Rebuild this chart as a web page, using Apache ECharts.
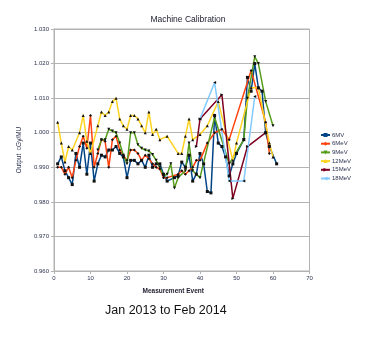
<!DOCTYPE html>
<html>
<head>
<meta charset="utf-8">
<script src="https://cdn.jsdelivr.net/npm/echarts@6/dist/echarts.min.js"></script>
<style>
  html, body { margin: 0; padding: 0; background: #ffffff; }
  #chart { width: 365px; height: 342px; }
</style>
</head>
<body>
<div id="chart"></div>
<script>
// Calibration output per measurement event, one [event, cGy/MU] list per beam
const seriesNames = ['6MV', '6MeV', '9MeV', '12MeV', '15MeV', '18MeV'];
const seriesColors = ['#004586', '#ff420e', '#579d1c', '#ffd320', '#7e0021', '#83caff'];

const mv6 = [
  [1,0.991],[2,0.993],[3,0.989],[4,0.987],[5,0.985],[6,0.994],[7,0.990],[8,0.997],[9,0.988],[10,0.997],
  [11,0.986],[12,0.991],[13,0.9935],[14,0.993],[15,0.995],[16,0.995],[17,0.996],[18,0.994],[19,0.993],[20,0.987],
  [21,0.992],[22,0.992],[23,0.991],[24,0.992],[25,0.990],[26,0.9935],[27,0.990],[28,0.991],[29,0.991],[30,0.988],
  [31,0.986],[33,0.987],[34,0.9875],[35,0.9915],[36,0.990],[37,0.9935],[38,0.986],[39,0.988],[40,0.994],[41,0.991],
  [42,0.983],[43,0.9826],[44,1.005],[45,0.997],[46,0.996],[47,0.993],[48,0.9875],[49,0.991],[50,0.994],[52,0.998],
  [53,1.016],[54,1.012],[55,1.020],[56,1.013],[57,1.012],[58,1.000],[59,0.996],[61,0.991]
];
const mev6 = [
  [1,0.990],[2,0.990],[3,0.988],[4,0.990],[5,0.987],[6,0.992],[7,0.996],[8,0.999],[9,0.9955],[10,1.005],
  [11,0.990],[12,0.994],[13,0.998],[14,0.9975],[15,0.990],[16,0.998],[17,0.999],[18,0.995],[19,0.9935],[20,0.992],
  [21,0.995],[22,0.995],[23,0.994],[24,0.992],[25,0.9935],[26,0.9925],[27,0.991],[28,0.990],[29,0.9895],[30,0.987],
  [31,0.987],[34,0.988],[35,0.989],[36,0.988],[37,0.989],[38,0.990],[39,0.992],[40,0.992],[42,0.997],[44,1.000],
  [46,1.001],[48,0.998],[54,1.018],[58,1.003],[59,0.994]
];
const mev9 = [
  [12,0.995],[13,0.998],[14,0.998],[15,1.001],[16,1.0005],[17,1.000],[18,0.997],[19,0.9935],[20,0.991],[21,1.000],
  [22,1.000],[23,0.9965],[24,0.9955],[25,0.995],[26,0.9947],[27,0.9937],[28,0.992],[29,0.990],[30,0.9875],[31,0.988],
  [32,0.991],[33,0.984],[34,0.987],[36,0.989],[37,0.997],[38,0.989],[40,0.987],[44,1.0045],[48,0.991],[52,0.998],
  [53,1.010],[55,1.022],[56,1.020],[58,1.009],[60,1.002]
];
const mev12 = [
  [1,1.003],[2,0.997],[3,0.9915],[4,0.996],[5,0.995],[7,1.000],[8,1.005],[9,0.9975],[10,0.994],[12,1.002],
  [13,1.006],[14,1.005],[15,1.006],[16,1.009],[17,1.010],[18,1.004],[19,1.002],[20,1.001],[21,1.005],[22,1.005],
  [23,1.004],[24,1.002],[25,1.000],[26,1.006],[27,0.9995],[28,1.001],[29,0.998],[31,0.999],[34,0.994],[35,0.994],
  [36,0.999],[37,1.004],[38,0.998],[40,0.9995],[42,1.002],[45,1.009],[49,0.992],[50,0.997],[54,1.013],[56,1.013],
  [59,0.997],[60,0.993]
];
const mev15 = [
  [39,0.996],[40,1.004],[46,1.011],[49,0.981],[53,0.996],[58,1.000]
];
const mev18 = [
  [40,1.004],[44,1.0145],[48,0.986],[52,0.986],[55,1.0105]
];

const xTicks = { min: 0, max: 70, step: 10 };
const yTicks = { min: 0.96, max: 1.03, step: 0.01 };

const seriesData = [mv6, mev6, mev9, mev12, mev15, mev18];
const symbols = ['rect', 'diamond', 'triangle', 'triangle', 'triangle', 'triangle'];
const symbolRotations = [0, 0, 180, 0, -90, 90];

const inkColor = '#2e3350';
const gridGrey = '#b3b3b3';
const fontFamily = 'Liberation Sans, Arial, sans-serif';

const chart = echarts.init(document.getElementById('chart'), null, { renderer: 'canvas' });

chart.setOption({
  animation: false,
  backgroundColor: '#ffffff',
  textStyle: { fontFamily: fontFamily },
  title: {
    text: 'Machine Calibration',
    left: 183,
    top: 10,
    textAlign: 'center',
    textStyle: { fontSize: 8.5, fontWeight: 'normal', color: '#222233', fontFamily: fontFamily }
  },
  grid: {
    left: 54, right: 55.5, top: 29, bottom: 71,
    show: true, borderColor: gridGrey, borderWidth: 1, backgroundColor: 'transparent'
  },
  legend: {
    orient: 'vertical',
    left: 320,
    top: 132,
    itemWidth: 9,
    itemHeight: 5,
    itemGap: 2.7,
    padding: 0,
    textStyle: { fontSize: 6, color: inkColor, padding: [0, 0, 0, -3] },
    data: seriesNames.map((n, i) => ({ name: n, itemStyle: { color: seriesColors[i] } }))
  },
  xAxis: {
    type: 'value',
    min: xTicks.min, max: xTicks.max, interval: xTicks.step,
    axisLine: { show: true, lineStyle: { color: gridGrey, width: 1 } },
    axisTick: { show: true, length: 3, lineStyle: { color: gridGrey } },
    splitLine: { show: false },
    axisLabel: { fontSize: 6, color: inkColor, margin: 4 }
  },
  yAxis: {
    type: 'value',
    min: yTicks.min, max: yTicks.max, interval: yTicks.step,
    name: 'Output  cGy/MU',
    nameLocation: 'middle',
    nameGap: 31,
    nameTextStyle: { fontSize: 6.5, color: inkColor },
    axisLine: { show: true, lineStyle: { color: gridGrey, width: 1 } },
    axisTick: { show: true, length: 3, lineStyle: { color: gridGrey } },
    splitLine: { show: true, lineStyle: { color: gridGrey, width: 1 } },
    axisLabel: { fontSize: 6, color: inkColor, margin: 5, formatter: v => v.toFixed(3) }
  },
  graphic: [
    {
      type: 'text', left: 173.5 - 31, top: 288,
      style: { text: 'Measurement Event', fontSize: 6.5, fontWeight: 'bold', fill: '#222233', fontFamily: fontFamily }
    },
    {
      type: 'text', left: 105, top: 304,
      style: { text: 'Jan 2013 to Feb 2014', fontSize: 12.5, fill: '#111111', fontFamily: fontFamily }
    }
  ],
  series: seriesNames.map((n, i) => ({
    name: n,
    type: 'line',
    data: seriesData[i],
    symbol: symbols[i],
    symbolRotate: symbolRotations[i],
    symbolSize: 3,
    showSymbol: true,
    itemStyle: { color: '#111111' },
    lineStyle: { color: seriesColors[i], width: 1.5 },
    emphasis: { disabled: true }
  }))
});
</script>
</body>
</html>
